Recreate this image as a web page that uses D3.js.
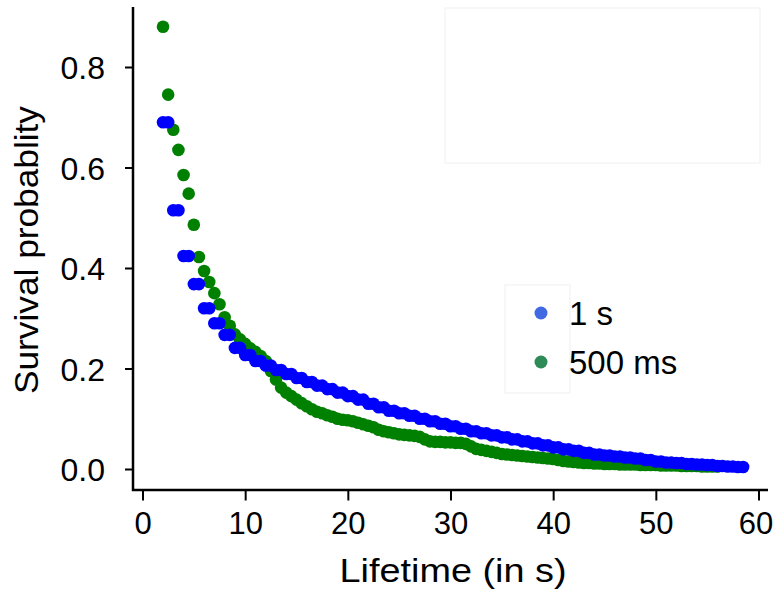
<!DOCTYPE html>
<html>
<head>
<meta charset="utf-8">
<script src="https://cdn.jsdelivr.net/npm/d3@7"></script>
<style>
  html, body { margin: 0; padding: 0; background: #fff; }
  svg text { font-family: "Liberation Sans", Arial, sans-serif; fill: #000; }
</style>
</head>
<body>
<div id="chart"></div>
<script>
// survival curves, sampled every 0.5 s starting at 2 s
const blueStart = 2, greenStart = 2, sampleStep = 0.5;

// 1 s sampling: each value holds for two 0.5 s samples
const blueSurv = [
  0.690, 0.690, 0.515, 0.515, 0.424, 0.424, 0.368, 0.368, 0.320, 0.320,
  0.290, 0.290, 0.267, 0.267, 0.241, 0.241, 0.227, 0.227, 0.215, 0.215,
  0.206, 0.206, 0.197, 0.197, 0.189, 0.189, 0.181, 0.181, 0.173, 0.173,
  0.166, 0.166, 0.159, 0.159, 0.152, 0.152, 0.145, 0.145, 0.138, 0.138,
  0.130, 0.130, 0.123, 0.123, 0.116, 0.116, 0.111, 0.111, 0.106, 0.106,
  0.100, 0.100, 0.095, 0.095, 0.090, 0.090, 0.085, 0.085, 0.080, 0.080,
  0.075, 0.075, 0.071, 0.071, 0.067, 0.067, 0.063, 0.063, 0.059, 0.059,
  0.055, 0.055, 0.051, 0.051, 0.047, 0.047, 0.043, 0.043, 0.039, 0.039,
  0.036, 0.036, 0.032, 0.032, 0.029, 0.029, 0.027, 0.027, 0.025, 0.025,
  0.023, 0.023, 0.021, 0.021, 0.018, 0.018, 0.015, 0.015, 0.013, 0.013,
  0.012, 0.012, 0.010, 0.010, 0.009, 0.009, 0.008, 0.008, 0.006, 0.006,
  0.005, 0.005, 0.004, 0.004,
];

const greenSurv = [
  0.880, 0.745, 0.675, 0.635, 0.585, 0.548, 0.486, 0.422, 0.394, 0.372,
  0.350, 0.328, 0.302, 0.285, 0.268, 0.258, 0.249, 0.240, 0.233, 0.225,
  0.215, 0.195, 0.178, 0.162, 0.152, 0.145, 0.138, 0.131, 0.125, 0.119,
  0.114, 0.111, 0.107, 0.104, 0.100, 0.098, 0.097, 0.095, 0.092, 0.089,
  0.086, 0.083, 0.078, 0.075, 0.073, 0.071, 0.069, 0.068, 0.067, 0.066,
  0.064, 0.059, 0.055, 0.054, 0.054, 0.053, 0.053, 0.052, 0.052, 0.050,
  0.045, 0.040, 0.038, 0.036, 0.034, 0.032, 0.030, 0.029, 0.028, 0.027,
  0.026, 0.025, 0.024, 0.023, 0.022, 0.021, 0.020, 0.018, 0.016, 0.015,
  0.014, 0.013, 0.012, 0.012, 0.011, 0.011, 0.010, 0.010, 0.010, 0.009,
  0.009, 0.009, 0.009, 0.008, 0.008, 0.008, 0.008, 0.007, 0.007, 0.007,
  0.007, 0.006, 0.006, 0.006, 0.006, 0.005, 0.005, 0.005, 0.005,
];

const xTicks = [0, 10, 20, 30, 40, 50, 60];
const yTicks = [0, 0.2, 0.4, 0.6, 0.8];
const legendLabels = ['1 s', '500 ms'];
const legendColors = ['#4169e1', '#2e8b57'];

const W = 774, H = 590;
const svg = d3.select('#chart').append('svg')
  .attr('width', W).attr('height', H)
  .style('display', 'block');

const x = d3.scaleLinear().domain([0, 60]).range([142.5, 758.5]);
const y = d3.scaleLinear().domain([0, 0.8]).range([469, 67]);

const toPoints = (vals, t0) => vals.map((v, i) => ({ t: t0 + i * sampleStep, v }));
const blue = toPoints(blueSurv, blueStart);
const green = toPoints(greenSurv, greenStart);

// faint empty frames left over in the original figure
svg.append('rect').attr('x', 445).attr('y', 8).attr('width', 315).attr('height', 155)
  .attr('fill', 'none').attr('stroke', '#f5f5f5').attr('stroke-width', 1.5);
svg.append('rect').attr('x', 505).attr('y', 285).attr('width', 65).attr('height', 108)
  .attr('fill', 'none').attr('stroke', '#f5f5f5').attr('stroke-width', 1.5);

// points (green under blue)
const R = 6.3;
svg.append('g').selectAll('circle').data(green).join('circle')
  .attr('cx', d => x(d.t)).attr('cy', d => y(d.v)).attr('r', R).attr('fill', '#008000');
svg.append('g').selectAll('circle').data(blue).join('circle')
  .attr('cx', d => x(d.t)).attr('cy', d => y(d.v)).attr('r', R).attr('fill', '#0000ff');

// axes, detached L frame
const axisY0 = 490, axisX0 = 133;
const gx = svg.append('g').attr('transform', `translate(0,${axisY0})`)
  .call(d3.axisBottom(x).tickValues(xTicks).tickFormat(d3.format('d')).tickSize(10.5).tickPadding(11));
const gy = svg.append('g').attr('transform', `translate(${axisX0},0)`)
  .call(d3.axisLeft(y).tickValues(yTicks).tickFormat(d3.format('.1f')).tickSize(8).tickPadding(20));
[gx, gy].forEach(g => {
  g.select('.domain').remove();
  g.selectAll('.tick line').attr('stroke', '#000').attr('stroke-width', 2);
  g.selectAll('.tick text').attr('font-size', 32).attr('fill', '#000');
});
gx.selectAll('.tick text').attr('font-size', 31);
// keep the last label inside the page edge
gx.selectAll('.tick text').filter(d => d === 60).attr('dx', -3);
gy.selectAll('.tick text').attr('dy', '0.36em');

svg.append('path')
  .attr('d', `M${axisX0},7V${axisY0}H768`)
  .attr('fill', 'none').attr('stroke', '#000').attr('stroke-width', 2.5);

// titles
svg.append('text').attr('x', 453).attr('y', 582).attr('text-anchor', 'middle')
  .attr('font-size', 34).attr('textLength', 227).attr('lengthAdjust', 'spacingAndGlyphs')
  .text('Lifetime (in s)');
svg.append('text').attr('transform', 'translate(38,250) rotate(-90)').attr('text-anchor', 'middle')
  .attr('font-size', 34).attr('textLength', 288).attr('lengthAdjust', 'spacingAndGlyphs')
  .text('Survival probablity');

// legend
const lg = svg.append('g');
const lgY = d3.scalePoint().domain(legendLabels).range([313, 362]);
lg.selectAll('circle').data(legendLabels).join('circle')
  .attr('cx', 541).attr('cy', d => lgY(d)).attr('r', 6.5)
  .attr('fill', (d, i) => legendColors[i]);
lg.selectAll('text').data(legendLabels).join('text')
  .attr('x', 569).attr('y', d => lgY(d)).attr('dy', '0.36em')
  .attr('font-size', 33)
  .text(d => d);
</script>
</body>
</html>
